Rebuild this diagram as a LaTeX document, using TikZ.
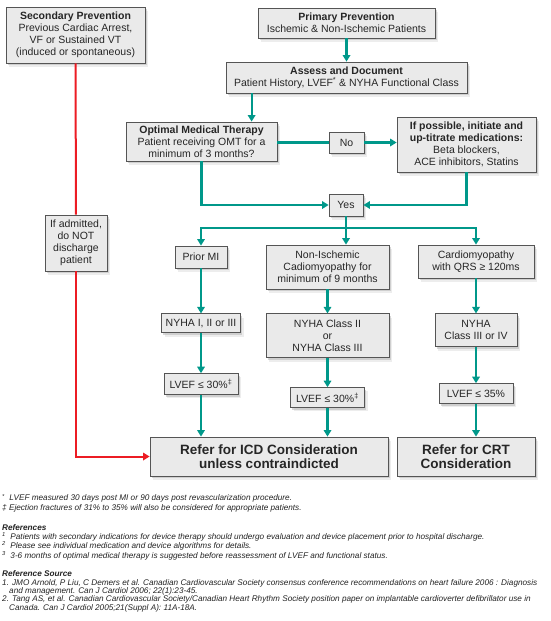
\documentclass[tikz,border=0pt]{standalone}
\usepackage{fontspec}
\setmainfont{Liberation Sans}
\usepackage{xcolor}
\usetikzlibrary{calc, positioning, arrows.meta, shadows}

\definecolor{flowteal}{RGB}{0,152,138}
\definecolor{flowred}{RGB}{236,28,36}
\definecolor{boxgray}{RGB}{234,234,234}
\definecolor{boxline}{RGB}{85,85,85}
\definecolor{notegray}{RGB}{35,35,35}

\begin{document}
\begin{tikzpicture}[x=1pt,y=-1pt,
                    flow node/.style={rectangle,draw=boxline,fill=boxgray,line width=0.8pt,
                      align=center,inner sep=2pt,text=black!85,font=\fontsize{10.5}{12}\selectfont,
                      drop shadow={shadow xshift=3.2pt,shadow yshift=-3.8pt,fill=black!14},
                      drop shadow={shadow xshift=1.8pt,shadow yshift=-2.2pt,fill=black!30}},
                    refer node/.style={flow node,font=\fontsize{13.5}{14}\selectfont\bfseries},
                    box size/.style 2 args={minimum width=#1pt,minimum height=#2pt},
                    note text/.style={anchor=north west,align=left,inner sep=0pt,text=notegray,
                      font=\fontsize{8.2}{8.4}\selectfont\itshape},
                    teal line/.style={draw=flowteal,line width=2.1pt},
                    teal arrow/.style={teal line,-{Triangle[width=7.5pt,length=6.5pt]}},
                    red line/.style={draw=flowred,line width=2pt},
                    red arrow/.style={red line,-{Triangle[width=7.5pt,length=6.5pt]}}]

  \useasboundingbox (0,0) rectangle (550,621);

  % top row
  \node[flow node,box size={139}{56}] (second) at (75.5,35)
    {\textbf{Secondary Prevention}\\Previous Cardiac Arrest,\\VF or Sustained VT\\(induced or spontaneous)};
  \node[flow node,box size={177}{30}] (primary) at (346.5,23)
    {\textbf{Primary Prevention}\\Ischemic \& Non-Ischemic Patients};
  \node[flow node,box size={241}{31}] (assess) at (346.5,77.5)
    {\textbf{Assess and Document}\\Patient History, LVEF\textsuperscript{*} \& NYHA Functional Class};

  % therapy row
  \node[flow node,box size={151}{39}] (omt) at (201.5,141.5)
    {\textbf{Optimal Medical Therapy}\\Patient receiving OMT for a\\minimum of 3 months?};
  \node[flow node,box size={35}{21}] (no) at (346.5,142.5) {No};
  \node[flow node,box size={139}{55}] (meds) at (466.5,144.5)
    {\textbf{If possible, initiate and}\\\textbf{up-titrate medications:}\\Beta blockers,\\ACE inhibitors, Statins};
  \node[flow node,box size={34}{22}] (yes) at (346,205) {Yes};

  \node[flow node,box size={62}{56}] (admit) at (76,243)
    {If admitted,\\do NOT\\discharge\\patient};

  % three columns
  \node[flow node,box size={52}{22}] (priormi) at (201,257) {Prior MI};
  \node[flow node,box size={79}{19}] (nyha1) [below=45pt of priormi] {NYHA I, II or III};
  \node[flow node,box size={74}{21}] (lvef1) [below=40pt of nyha1] {LVEF ≤ 30\%\textsuperscript{‡}};

  \node[flow node,box size={123}{44}] (nonisch) at (327.5,267)
    {Non-Ischemic\\Cadiomyopathy for\\minimum of 9 months};
  \node[flow node,box size={123}{44}] (nyha2) [below=24pt of nonisch]
    {NYHA Class II\\or\\NYHA Class III};
  \node[flow node,box size={74}{20}] (lvef2) [below=29pt of nyha2] {LVEF ≤ 30\%\textsuperscript{‡}};

  \node[flow node,box size={116}{33}] (cardio) at (476,261.5)
    {Cardiomyopathy\\with QRS ≥ 120ms};
  \node[flow node,box size={82}{33}] (nyha3) [below=35pt of cardio] {NYHA\\Class III or IV};
  \node[flow node,box size={74}{20}] (lvef3) [below=36pt of nyha3] {LVEF ≤ 35\%};

  % outcomes
  \node[refer node,box size={238}{39}] (icd) at (269,456.5)
    {Refer for ICD Consideration\\unless contraindicted};
  \node[refer node,box size={138}{39}] (crt) at (466,456.5)
    {Refer for CRT\\Consideration};

  % connectors
  \path[every edge/.style={teal arrow}]
    (primary) edge (assess)
    ($(assess.south west)+(26,0)$) edge ($(omt.north west)+(126,0)$)
    (no.east) edge (no.east -| meds.west)
    (yes.south) edge (yes.south |- nonisch.north)
    (priormi) edge (nyha1)
    (nyha1) edge (lvef1)
    (lvef1.south) edge (lvef1.south |- icd.north)
    (nonisch) edge (nyha2)
    (nyha2) edge (lvef2)
    (lvef2.south) edge (lvef2.south |- icd.north)
    (cardio) edge (nyha3)
    (nyha3) edge (lvef3)
    (lvef3.south) edge (lvef3.south |- crt.north);

  \draw[teal line] (no.west -| omt.east) -- (no.west);
  \draw[teal arrow] (omt.south) |- (yes.west);
  \draw[teal arrow] (meds.south) |- (yes.east);

  \coordinate (split) at ($(yes.south)+(0,12)$);
  \draw[teal arrow] (split) -| (priormi.north);
  \draw[teal arrow] (split) -| (cardio.north);

  \draw[red line] (second) -- (admit);
  \draw[red arrow] (admit.south) |- (icd.west);

  % notes
  \node[note text] (marks) at (2,494)
    {\textsuperscript{*}\ \ LVEF measured 30 days post MI or 90 days post revascularization procedure.\\[1.5pt]
     ‡ Ejection fractures of 31\% to 35\% will also be considered for appropriate patients.};
  \node[note text] (refs) at (2,524.5)
    {\textbf{References}\\
     \textsuperscript{1}\ \ Patients with secondary indications for device therapy should undergo evaluation and device placement prior to hospital discharge.\\
     \textsuperscript{2}\ \ Please see individual medication and device algorithms for details.\\
     \textsuperscript{3}\ \ 3-6 months of optimal medical therapy is suggested before reassessment of LVEF and functional status.};
  \node[note text] (sources) at (2,570.5)
    {\textbf{Reference Source}\\
     1. JMO Arnold, P Liu, C Demers et al. Canadian Cardiovascular Society consensus conference recommendations on heart failure 2006 : Diagnosis\\
     \hspace*{7pt}and management. Can J Cardiol 2006; 22(1):23-45.\\
     2. Tang AS, et al. Canadian Cardiovascular Society/Canadian Heart Rhythm Society position paper on implantable cardioverter defibrillator use in\\
     \hspace*{7pt}Canada. Can J Cardiol 2005;21(Suppl A): 11A-18A.};

\end{tikzpicture}
\end{document}
